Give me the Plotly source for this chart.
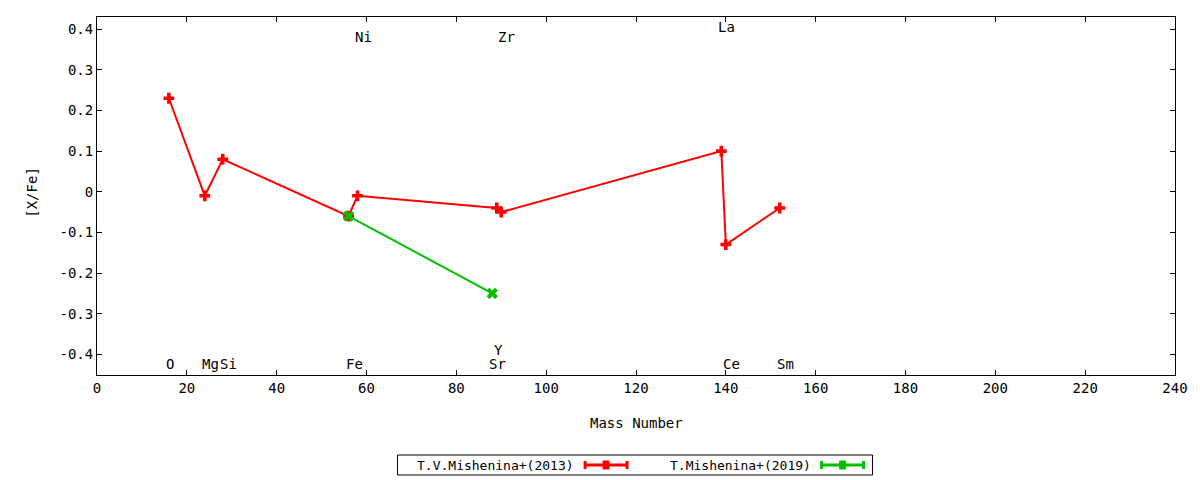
import plotly.graph_objects as go

# ---- data ----
red_mass = [16, 24, 28, 56, 58, 89, 90, 139, 140, 152]
red_val = [0.23, -0.01, 0.08, -0.06, -0.01, -0.04, -0.05, 0.10, -0.13, -0.04]
green_mass = [56, 88]
green_val = [-0.06, -0.25]

elem_names = ["O", "Mg", "Si", "Fe", "Ni", "Sr", "Y", "Zr", "La", "Ce", "Sm"]
elem_mass = [16, 24, 28, 56, 58, 88, 89, 90, 139, 140, 152]
elem_label_y = [-0.425, -0.425, -0.425, -0.425, 0.38, -0.425, -0.39, 0.38, 0.405, -0.425, -0.425]

xtick_vals = list(range(0, 241, 20))
ytick_vals = [0.4, 0.3, 0.2, 0.1, 0, -0.1, -0.2, -0.3, -0.4]
ytick_text = ["0.4", "0.3", "0.2", "0.1", "0", "-0.1", "-0.2", "-0.3", "-0.4"]

series_names = ["T.V.Mishenina+(2013)", "T.Mishenina+(2019)"]
RED = "#ff0000"
GREEN = "#00c000"
FONT = "DejaVu Sans Mono"
FS = 14

fig = go.Figure()
fig.add_trace(go.Scatter(x=red_mass, y=red_val, mode="lines+markers",
                         name=series_names[0],
                         line=dict(color=RED, width=2),
                         marker=dict(symbol="cross", size=9, color=RED)))
fig.add_trace(go.Scatter(x=green_mass, y=green_val, mode="lines+markers",
                         name=series_names[1],
                         line=dict(color=GREEN, width=2),
                         marker=dict(symbol="x", size=10, color=GREEN)))

annotations = []
for n, m, yv in zip(elem_names, elem_mass, elem_label_y):
    annotations.append(dict(x=m - 1.1, y=yv, text=n, showarrow=False,
                            xanchor="left", yanchor="middle",
                            font=dict(family=FONT, size=FS, color="black")))

# axis titles
annotations.append(dict(x=0.5, y=-0.135, xref="paper", yref="paper",
                        text="Mass Number", showarrow=False,
                        xanchor="center", yanchor="middle",
                        font=dict(family=FONT, size=FS, color="black")))
annotations.append(dict(x=-0.06, y=0.51, xref="paper", yref="paper",
                        text="[X/Fe]", showarrow=False, textangle=-90,
                        xanchor="center", yanchor="middle",
                        font=dict(family=FONT, size=FS, color="black")))

# custom legend (gnuplot style: text then sample)
def px2x(px):
    return (px - 97) / 1080.0

def py2y(py):
    return (375 - py) / 358.0

shapes = [dict(type="rect", xref="paper", yref="paper",
               x0=px2x(398), x1=px2x(874), y0=py2y(475), y1=py2y(455),
               line=dict(color="black", width=1), fillcolor="white")]

legend_items = [(series_names[0], RED, 577, 586, 628),
                (series_names[1], GREEN, 814, 823, 865)]
for name, col, txt_end, s0, s1 in legend_items:
    annotations.append(dict(x=px2x(txt_end), y=py2y(465), xref="paper", yref="paper",
                            text=name, showarrow=False, xanchor="right", yanchor="middle",
                            font=dict(family=FONT, size=13, color="black")))
    yc = py2y(465)
    shapes.append(dict(type="line", xref="paper", yref="paper",
                       x0=px2x(s0), x1=px2x(s1), y0=yc, y1=yc,
                       line=dict(color=col, width=3)))
    for sx in (s0, s1):
        shapes.append(dict(type="line", xref="paper", yref="paper",
                           x0=px2x(sx), x1=px2x(sx), y0=py2y(469), y1=py2y(461),
                           line=dict(color=col, width=3)))
    mid = (s0 + s1) / 2
    shapes.append(dict(type="rect", xref="paper", yref="paper",
                       x0=px2x(mid - 3), x1=px2x(mid + 3), y0=py2y(469), y1=py2y(461),
                       line=dict(color=col, width=1), fillcolor=col))

fig.update_layout(
    width=1200, height=480,
    margin=dict(l=97, r=22, t=17, b=105),
    paper_bgcolor="white", plot_bgcolor="white",
    showlegend=False,
    font=dict(family=FONT, size=FS, color="black"),
    xaxis=dict(range=[0, 240], tickvals=xtick_vals, ticks="inside", ticklen=5,
               tickcolor="black", showline=True, linecolor="black", linewidth=1,
               mirror="ticks", showgrid=False, zeroline=False,
               tickfont=dict(family=FONT, size=FS)),
    yaxis=dict(range=[-0.451, 0.43], tickvals=ytick_vals, ticktext=ytick_text,
               ticks="inside", ticklen=5, tickcolor="black", showline=True,
               linecolor="black", linewidth=1, mirror="ticks", showgrid=False,
               zeroline=False, tickfont=dict(family=FONT, size=FS)),
    annotations=annotations,
    shapes=shapes,
)

fig.write_html("out.html", config={"displayModeBar": False},
               post_script="document.body.style.margin='0';document.body.style.overflow='hidden';")
